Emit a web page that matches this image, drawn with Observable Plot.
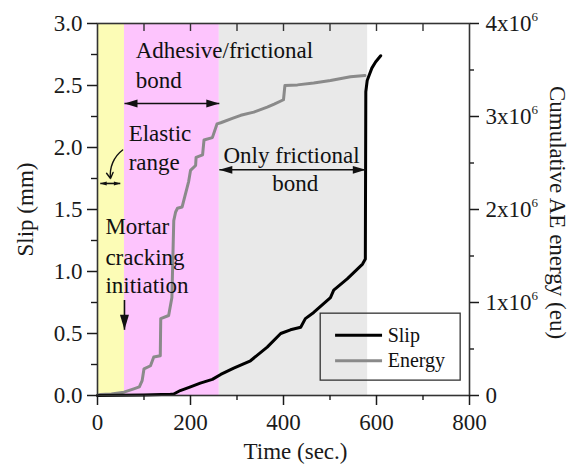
<!DOCTYPE html>
<html><head><meta charset="utf-8">
<script src="https://cdn.jsdelivr.net/npm/d3@7"></script>
<script src="https://cdn.jsdelivr.net/npm/@observablehq/plot@0.6"></script>
<style>body{margin:0;background:#fff}#chart svg{display:block}#chart svg text{font-family:"Liberation Serif","Times New Roman",serif}</style>
</head><body><div id="chart"></div>
<script>
// ---- data ----
const slipTime  = [0, 100, 157, 164, 178, 200, 221, 247, 265, 293, 329, 365, 394, 415, 437, 447, 465, 501, 508, 537, 570, 576, 577, 580, 584, 590, 598, 609];
const slipValue = [0, 0.005, 0.01, 0.012, 0.04, 0.07, 0.10, 0.13, 0.17, 0.22, 0.28, 0.39, 0.50, 0.53, 0.55, 0.62, 0.67, 0.79, 0.85, 0.94, 1.06, 1.10, 2.45, 2.54, 2.58, 2.64, 2.69, 2.74];
const energyTime  = [0, 6, 30, 57, 78, 90, 96, 100, 114, 121, 135, 136, 153, 160, 164, 168, 172, 182, 196, 200, 211, 212, 226, 229, 247, 257, 265, 290, 308, 336, 365, 380, 400, 403, 430, 465, 501, 544, 575];
const energyValue = [0, 0.011, 0.016, 0.036, 0.072, 0.093, 0.16, 0.287, 0.32, 0.413, 0.427, 0.827, 0.86, 1.053, 1.88, 1.973, 2.013, 2.027, 2.30, 2.42, 2.473, 2.56, 2.587, 2.747, 2.773, 2.92, 2.933, 2.98, 3.013, 3.047, 3.10, 3.133, 3.18, 3.333, 3.34, 3.36, 3.387, 3.427, 3.44]; // x10^6 eu
const seriesNames = ["Slip", "Energy"];

const regionNames = ["Elastic range", "Adhesive/frictional bond", "Only frictional bond"];
const regionStart = [0, 58, 262];
const regionEnd   = [58, 262, 581];

const timeTicks = [0, 200, 400, 600, 800];
const timeMinorTicks = [100, 300, 500, 700];
const timeTopTicks = [100, 200, 300, 400, 500, 600, 700];
const slipTicks = [0, 0.5, 1, 1.5, 2, 2.5, 3];
const slipMinorTicks = [0.25, 0.75, 1.25, 1.75, 2.25, 2.75];
const energyTicks = [0, 1, 2, 3, 4];          // x10^6
const energyMinorTicks = [0.5, 1.5, 2.5, 3.5];

// annotations (data coordinates)
const noteText = ["Adhesive/frictional", "bond", "Elastic", "range", "Only frictional", "bond", "Mortar", "cracking", "initiation"];
const noteX    = [82, 82, 67, 67, 271, 376, 17, 17, 17];
const noteY    = [2.72, 2.48, 2.056, 1.815, 1.879, 1.653, 1.306, 1.056, 0.823];
const spanStart = [58, 262, 6];
const spanEnd   = [262, 577, 49];
const spanY     = [2.355, 1.82, 1.71];

// ---- derived ----
const K = 3 / 4; // slip axis (3 mm) <-> energy axis (4x10^6)
const slip = slipTime.map((t, i) => ({t, v: slipValue[i]}));
const energy = energyTime.map((t, i) => ({t, v: energyValue[i] * K}));
const regions = regionNames.map((name, i) => ({name, x1: regionStart[i], x2: regionEnd[i]}));
const notes = noteText.map((text, i) => ({text, x: noteX[i], y: noteY[i]}));
const spans = spanStart.map((x1, i) => ({x1, x2: spanEnd[i], y: spanY[i]}));
const bigHeads = spans.slice(0, 2).flatMap(s => [{x: s.x1, y: s.y, a: 180}, {x: s.x2, y: s.y, a: 0}]);
const smallHeads = spans.slice(2).flatMap(s => [{x: s.x1, y: s.y, a: 180}, {x: s.x2, y: s.y, a: 0}]);
const mortarArrow = [{x: 58, y1: 0.77, y2: 0.53}];
const elasticArrow = [{x1: 54, y1: 1.98, x2: 28, y2: 1.75}];
const legendBox = [{x1: 480, x2: 781, y1: 0.12, y2: 0.66}];
const legendRows = seriesNames.map((name, i) => ({name, y: [0.485, 0.28][i]}));

const head = {draw(ctx, size) {
  const r = Math.sqrt(size / Math.PI);
  ctx.moveTo(0, 0); ctx.lineTo(-2 * r, -0.6 * r); ctx.lineTo(-2 * r, 0.6 * r); ctx.closePath();
}};

const serif = "'Liberation Serif','Times New Roman',serif";
const ink = "#1a1a1a";

const chart = Plot.plot({
  width: 576, height: 465,
  marginLeft: 97, marginRight: 107, marginTop: 23, marginBottom: 70,
  style: {fontFamily: serif, fontSize: "23px", color: ink, background: "transparent"},
  x: {domain: [0, 800]},
  y: {domain: [0, 3]},
  color: {domain: regionNames, range: ["#fcfcb6", "#fdc4fd", "#e9e9e9"]},
  marks: [
    Plot.rect(regions, {x1: "x1", x2: "x2", fill: "name"}),
    Plot.line(energy, {x: "t", y: "v", stroke: "#8a8a8a", strokeWidth: 3}),
    Plot.line(slip, {x: "t", y: "v", stroke: "#000", strokeWidth: 3}),
    // annotations
    Plot.text(notes, {x: "x", y: "y", text: "text", textAnchor: "start", lineAnchor: "bottom", fontSize: 23, fill: "#111"}),
    Plot.link(spans, {x1: "x1", x2: "x2", y1: "y", y2: "y", stroke: "#111", strokeWidth: 1.6}),
    Plot.dot(bigHeads, {x: "x", y: "y", rotate: "a", r: 6.5, symbol: head, fill: "#111", stroke: null}),
    Plot.dot(smallHeads, {x: "x", y: "y", rotate: "a", r: 3.2, symbol: head, fill: "#111", stroke: null}),
    Plot.link(mortarArrow, {x1: "x", x2: "x", y1: "y1", y2: "y2", stroke: "#111", strokeWidth: 1.6}),
    Plot.dot(mortarArrow, {x: "x", y: "y2", rotate: 90, r: 7.5, symbol: head, fill: "#111", stroke: null}),
    Plot.arrow(elasticArrow, {x1: "x1", y1: "y1", x2: "x2", y2: "y2", bend: -30, headLength: 7, stroke: "#111", strokeWidth: 1.4}),
    // legend
    Plot.rect(legendBox, {x1: "x1", x2: "x2", y1: "y1", y2: "y2", fill: "none", stroke: "#333", strokeWidth: 1.3}),
    Plot.ruleY(legendRows, {y: "y", x1: 512, x2: 613, stroke: (d, i) => i === 0 ? "#000" : "#8a8a8a", strokeWidth: 3}),
    Plot.text(legendRows, {x: 624, y: "y", text: "name", textAnchor: "start", fontSize: 20, fill: "#111"}),
    // frame and axes
    Plot.frame({stroke: "#333", strokeWidth: 1.6}),
    Plot.tickX(timeTopTicks, {x: d => d, insetBottom: 364, stroke: "#333", strokeWidth: 1.4}),
    Plot.axisX({ticks: timeTicks, tickSize: 10, tickPadding: 8, tickFormat: d => String(d), label: null, strokeWidth: 1.5}),
    Plot.axisX({ticks: timeMinorTicks, tickSize: 5, tickFormat: () => "", label: null, strokeWidth: 1.4}),
    Plot.axisY({ticks: slipTicks, tickSize: 10, tickPadding: 5, tickFormat: d => d.toFixed(1), label: null, strokeWidth: 1.5}),
    Plot.axisY({ticks: slipMinorTicks, tickSize: 6, tickFormat: () => "", label: null, strokeWidth: 1.4}),
    Plot.axisY({anchor: "right", ticks: energyTicks.map(v => v * K), tickSize: 9, tickPadding: 7,
      tickFormat: v => { const k = Math.round(v / K); return k === 0 ? "0" : k + "x10"; }, label: null, strokeWidth: 1.5}),
    Plot.axisY({anchor: "right", ticks: energyMinorTicks.map(v => v * K), tickSize: 4, tickFormat: () => "", label: null, strokeWidth: 1.4}),
    // axis titles
    Plot.text(["Time (sec.)"], {frameAnchor: "bottom", dx: 12, dy: 63, textAnchor: "middle", lineAnchor: "bottom", fontSize: 23, fill: ink}),
    Plot.text(["Slip (mm)"], {frameAnchor: "left", dx: -72, rotate: -90, textAnchor: "middle", lineAnchor: "middle", fontSize: 23, fill: ink}),
    Plot.text(["Cumulative AE energy (eu)"], {frameAnchor: "right", dx: 88, dy: 3, rotate: 90, textAnchor: "middle", lineAnchor: "middle", fontSize: 23, fill: ink})
  ]
});

// superscript exponent on the energy tick labels
d3.select(chart).selectAll("text").each(function() {
  const t = this.textContent;
  if (/^\dx10$/.test(t)) {
    d3.select(this).append("tspan").attr("dy", "-10").attr("font-size", "13px").text("6");
  }
});

document.getElementById("chart").appendChild(chart);
</script>
</body></html>
